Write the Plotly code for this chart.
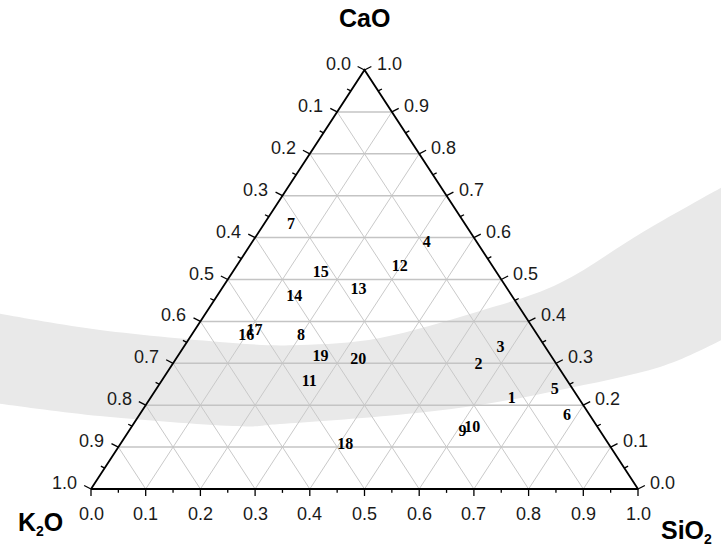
import plotly.graph_objects as go

# Sample compositions (mass fractions) and their labels
samples = [str(i) for i in range(1, 21)]
cao  = [0.216, 0.295, 0.337, 0.586, 0.236, 0.174, 0.629, 0.366, 0.136, 0.146,
        0.256, 0.529, 0.476, 0.459, 0.516, 0.364, 0.376, 0.106, 0.315, 0.309]
sio2 = [0.661, 0.561, 0.580, 0.321, 0.730, 0.783, 0.051, 0.201, 0.611, 0.624,
        0.271, 0.300, 0.251, 0.142, 0.162, 0.102, 0.111, 0.412, 0.262, 0.334]
k2o  = [0.123, 0.144, 0.083, 0.093, 0.034, 0.043, 0.320, 0.433, 0.253, 0.230,
        0.473, 0.171, 0.273, 0.399, 0.322, 0.534, 0.513, 0.482, 0.423, 0.357]

tick_values = [0.0, 0.1, 0.2, 0.3, 0.4, 0.5, 0.6, 0.7, 0.8, 0.9, 1.0]
minor_values = [0.05, 0.15, 0.25, 0.35, 0.45, 0.55, 0.65, 0.75, 0.85, 0.95]
tick_labels = ["0.0", "0.1", "0.2", "0.3", "0.4", "0.5", "0.6", "0.7", "0.8", "0.9", "1.0"]

H = 0.8660254  # height of unit equilateral triangle


def to_xy(c, s, k):
    """Ternary (CaO top, K2O bottom-left, SiO2 bottom-right) -> plane."""
    tot = c + s + k
    return (s + c / 2.0) / tot, c / tot


def segs(pairs):
    xs, ys = [], []
    for (x0, y0), (x1, y1) in pairs:
        xs += [x0, x1, None]
        ys += [y0, y1, None]
    return xs, ys


fig = go.Figure()

# ---- grid lines -------------------------------------------------------
inner = tick_values[1:-1]
horiz = [(to_xy(t, 0, 1 - t), to_xy(t, 1 - t, 0)) for t in inner]           # CaO const
diag = [(to_xy(1 - t, 0, t), to_xy(0, 1 - t, t)) for t in inner]            # K2O const
diag += [(to_xy(0, t, 1 - t), to_xy(1 - t, t, 0)) for t in inner]           # SiO2 const
gx, gy = segs(diag)
fig.add_trace(go.Scatter(x=gx, y=gy, mode="lines", hoverinfo="skip",
                         line=dict(color="#c9c9c9", width=1), showlegend=False))
gx, gy = segs(horiz)
fig.add_trace(go.Scatter(x=gx, y=gy, mode="lines", hoverinfo="skip",
                         line=dict(color="#c4c4c4", width=1.5), showlegend=False))

# ---- ticks on the three edges ----------------------------------------
L_MAJ, L_MIN = 0.0145, 0.008
normals = {"left": (-H, 0.5 / H), "right": (H, 0.5 / H), "bottom": (0.0, -1.0 / H)}


def edge_point(edge, t):
    if edge == "left":      # K2O value along left edge
        return to_xy(1 - t, 0, t)
    if edge == "right":     # CaO value along right edge
        return to_xy(t, 1 - t, 0)
    return to_xy(0, t, 1 - t)  # SiO2 value along base


tick_pairs = []
for edge, (nx, ny) in normals.items():
    for vals, L in ((tick_values, L_MAJ), (minor_values, L_MIN)):
        for t in vals:
            x0, y0 = edge_point(edge, t)
            tick_pairs.append(((x0, y0), (x0 + nx * L, y0 + ny * L)))
tx, ty = segs(tick_pairs)
fig.add_trace(go.Scatter(x=tx, y=ty, mode="lines", hoverinfo="skip",
                         line=dict(color="black", width=1.3), showlegend=False))

# ---- triangle outline -------------------------------------------------
corners = [to_xy(0, 0, 1), to_xy(0, 1, 0), to_xy(1, 0, 0), to_xy(0, 0, 1)]
fig.add_trace(go.Scatter(x=[p[0] for p in corners], y=[p[1] for p in corners],
                         mode="lines", hoverinfo="skip",
                         line=dict(color="black", width=1.8), showlegend=False))

# ---- sample labels ----------------------------------------------------
px, py = zip(*[to_xy(c, s, k) for c, s, k in zip(cao, sio2, k2o)])
fig.add_trace(go.Scatter(
    x=px, y=py, mode="text", text=samples, textposition="middle center",
    textfont=dict(family="Liberation Serif, Times New Roman, serif", size=16,
                  color="black", weight="bold"),
    customdata=list(zip(cao, sio2, k2o)),
    hovertemplate="CaO %{customdata[0]}<br>SiO2 %{customdata[1]}<br>K2O %{customdata[2]}<extra>%{text}</extra>",
    showlegend=False, cliponaxis=False))

# ---- tick labels ------------------------------------------------------
tick_font = dict(family="Liberation Sans, Arial, sans-serif", size=18, color="#1a1a1a")
ann = []
for t, lab in zip(tick_values, tick_labels):
    x, y = edge_point("left", t)
    ann.append(dict(x=x, y=y, text=lab, showarrow=False, xanchor="right",
                    yanchor="middle", xshift=-12, yshift=6, font=tick_font))
    x, y = edge_point("right", t)
    ann.append(dict(x=x, y=y, text=lab, showarrow=False, xanchor="left",
                    yanchor="middle", xshift=10, yshift=6, font=tick_font))
    x, y = edge_point("bottom", t)
    ann.append(dict(x=x, y=y, text=lab, showarrow=False, xanchor="center",
                    yanchor="top", yshift=-13, font=tick_font))

# ---- corner titles ----------------------------------------------------
title_font = dict(family="Liberation Sans, Arial, sans-serif",
                  size=25, color="black", weight="bold")
small = '<sub><span style="font-size:14px">2</span></sub>'
top = to_xy(1, 0, 0)
ann.append(dict(x=top[0], y=top[1], text="CaO", showarrow=False,
                xanchor="center", yanchor="bottom", yshift=36, font=title_font))
bl = to_xy(0, 0, 1)
ann.append(dict(x=bl[0], y=bl[1], text="K" + small + "O", showarrow=False,
                xanchor="right", yanchor="top", xshift=-26, yshift=-17, font=title_font))
br = to_xy(0, 1, 0)
ann.append(dict(x=br[0], y=br[1], text="SiO" + small, showarrow=False,
                xanchor="left", yanchor="top", xshift=21, yshift=-25, font=title_font))


# ---- light grey swoosh in the background -----------------------------
def smooth(points):
    """Catmull-Rom through the points, written as cubic Bezier commands."""
    out = []
    n = len(points)
    for i in range(n - 1):
        p0 = points[max(i - 1, 0)]
        p1, p2 = points[i], points[i + 1]
        p3 = points[min(i + 2, n - 1)]
        c1 = (p1[0] + (p2[0] - p0[0]) / 6, p1[1] + (p2[1] - p0[1]) / 6)
        c2 = (p2[0] - (p3[0] - p1[0]) / 6, p2[1] - (p3[1] - p1[1]) / 6)
        out.append((c1, c2, p2))
    return out


W, Hh = 721.0, 549.0


def pp(p):
    return f"{p[0] / W:.4f},{1 - p[1] / Hh:.4f}"


top_edge = [(-5, 313), (100, 330), (233, 343), (300, 345), (380, 338), (480, 311),
            (560, 283), (643, 232), (726, 185)]
bot_edge = [(726, 338), (660, 367), (560, 390), (473, 406), (385, 416), (280, 424),
            (233, 426), (100, 416), (-5, 403)]
path = "M " + pp(top_edge[0])
for c1, c2, p in smooth(top_edge):
    path += f" C {pp(c1)} {pp(c2)} {pp(p)}"
path += " L " + pp(bot_edge[0])
for c1, c2, p in smooth(bot_edge):
    path += f" C {pp(c1)} {pp(c2)} {pp(p)}"
path += " Z"
shapes = [dict(type="path", xref="paper", yref="paper", path=path,
               fillcolor="#e9e9e9", line=dict(width=0), layer="below")]

# plane coordinates: unit base spans 547 px, unit height spans 419 px
x_left_px, base_px, unit_w, unit_h = 91.0, 489.0, 547.0, 419.0
fig.update_layout(
    width=721, height=549,
    margin=dict(l=0, r=0, t=0, b=0),
    paper_bgcolor="white", plot_bgcolor="rgba(0,0,0,0)",
    xaxis=dict(range=[-x_left_px / unit_w, (W - x_left_px) / unit_w],
               visible=False, fixedrange=True),
    yaxis=dict(range=[-(Hh - base_px) / unit_h, base_px / unit_h],
               visible=False, fixedrange=True),
    annotations=ann, shapes=shapes, showlegend=False,
)

fig.write_html("out.html")
